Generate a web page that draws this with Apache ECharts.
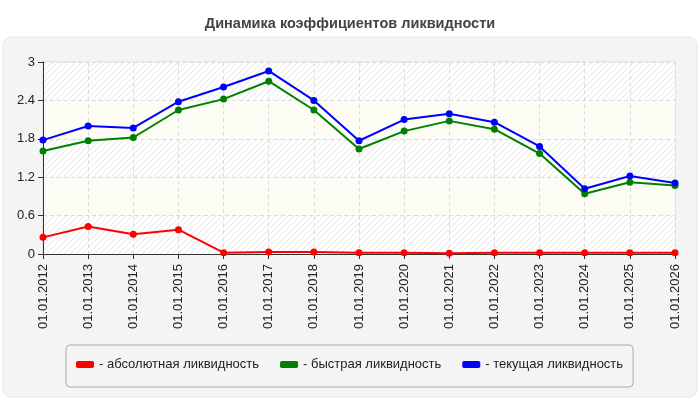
<!DOCTYPE html>
<html>
<head>
<meta charset="utf-8">
<script src="https://cdn.jsdelivr.net/npm/echarts@6/dist/echarts.min.js"></script>
<style>
    html, body { margin: 0; padding: 0; background: #fff; }
    #chart { width: 700px; height: 400px; }
</style>
</head>
<body>
<div id="chart"></div>
<script>
const categories = ['01.01.2012', '01.01.2013', '01.01.2014', '01.01.2015', '01.01.2016', '01.01.2017', '01.01.2018',
    '01.01.2019', '01.01.2020', '01.01.2021', '01.01.2022', '01.01.2023', '01.01.2024', '01.01.2025', '01.01.2026']
const absoluteLiq = [0.26, 0.43, 0.31, 0.38, 0.02, 0.03, 0.03, 0.02, 0.02, 0.01, 0.02, 0.02, 0.02, 0.02, 0.02]
const quickLiq = [1.61, 1.77, 1.82, 2.25, 2.42, 2.70, 2.25, 1.64, 1.92, 2.08, 1.95, 1.57, 0.94, 1.12, 1.07]
const currentLiq = [1.78, 2.00, 1.97, 2.38, 2.61, 2.86, 2.40, 1.77, 2.10, 2.19, 2.06, 1.68, 1.02, 1.22, 1.11]
const yTicks = { min: 0, max: 3, interval: 0.6 }

// штриховка для полос фона
const makeHatch = () => {
    let c = document.createElement('canvas')
    c.width = 6
    c.height = 6
    let ctx = c.getContext('2d')
    ctx.fillStyle = '#ffffff'
    ctx.fillRect(0, 0, 6, 6)
    ctx.strokeStyle = '#ededed'
    ctx.lineWidth = 1.2
    ctx.beginPath()
    ctx.moveTo(0, 6); ctx.lineTo(6, 0)
    ctx.moveTo(-3, 3); ctx.lineTo(3, -3)
    ctx.moveTo(3, 9); ctx.lineTo(9, 3)
    ctx.stroke()
    return { image: c, repeat: 'repeat' }
}

const makeSeries = (name, data, color) => ({
    name,
    type: 'line',
    data,
    symbol: 'circle',
    symbolSize: 7,
    lineStyle: { color, width: 2 },
    itemStyle: { color },
    animation: false,
})

const chart = echarts.init(document.getElementById('chart'))
chart.setOption({
    animation: false,
    textStyle: { fontFamily: 'Liberation Sans, Arial, sans-serif' },
    graphic: [{
        type: 'rect',
        z: -10,
        shape: { x: 3, y: 37, width: 694, height: 360, r: 8 },
        style: { fill: '#f4f4f4', stroke: '#e6e6e6', lineWidth: 1 },
    }],
    title: {
        text: 'Динамика коэффициентов ликвидности',
        left: 'center',
        top: 11,
        textStyle: { fontSize: 14.5, fontWeight: 'bold', color: '#444' },
    },
    legend: {
        left: 66,
        top: 345,
        padding: [13, 10, 16, 10],
        itemWidth: 18,
        itemHeight: 7,
        itemGap: 21,
        icon: 'roundRect',
        borderColor: '#aaa',
        borderWidth: 1,
        borderRadius: 4,
        formatter: (name) => '- ' + name,
        textStyle: { fontSize: 13, color: '#222' },
    },
    grid: {
        left: 43, right: 25, top: 62, bottom: 146,
        show: true, borderColor: '#dddddd', borderWidth: 1, backgroundColor: 'transparent',
    },
    xAxis: {
        type: 'category',
        data: categories,
        boundaryGap: false,
        axisLine: { lineStyle: { color: '#333' } },
        axisTick: { show: true, length: 5, lineStyle: { color: '#333' } },
        axisLabel: { rotate: 90, fontSize: 13, color: '#222', margin: 10 },
        splitLine: { show: true, lineStyle: { color: '#dcdcdc', type: [4, 3] } },
    },
    yAxis: {
        type: 'value',
        min: yTicks.min,
        max: yTicks.max,
        interval: yTicks.interval,
        axisLine: { show: true, lineStyle: { color: '#333' } },
        axisTick: { show: true, length: 5, lineStyle: { color: '#333' } },
        axisLabel: { fontSize: 13, color: '#222', margin: 8, formatter: (v) => String(+v.toFixed(1)) },
        splitLine: { show: true, lineStyle: { color: '#dcdcdc', type: [4, 3] } },
        splitArea: { show: true, areaStyle: { color: [makeHatch(), '#fdfdf6'] } },
    },
    series: [
        makeSeries('абсолютная ликвидность', absoluteLiq, '#ff0000'),
        makeSeries('быстрая ликвидность', quickLiq, '#008000'),
        makeSeries('текущая ликвидность', currentLiq, '#0000ff'),
    ],
})
</script>
</body>
</html>
